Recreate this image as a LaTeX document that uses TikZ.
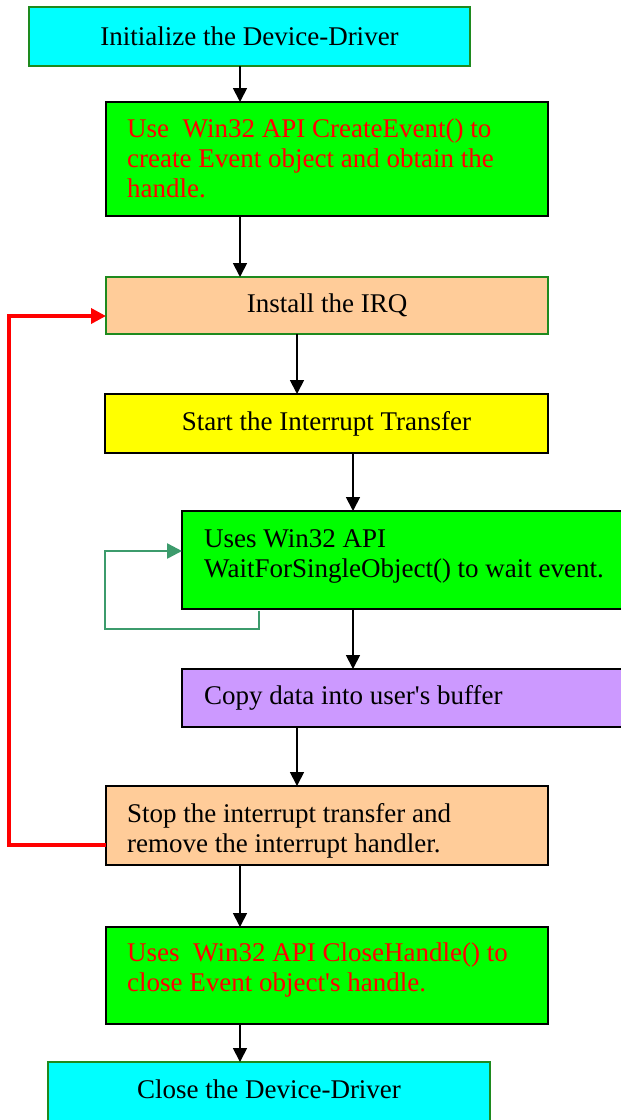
\documentclass[tikz,border=0pt]{standalone}
\usepackage{fontspec}
\newfontfamily\diagfont{Liberation Serif}
\usetikzlibrary{arrows.meta,calc}

\definecolor{fillCyan}{HTML}{00FFFF}
\definecolor{fillGreen}{HTML}{00FF00}
\definecolor{fillPeach}{HTML}{FFCC99}
\definecolor{fillYellow}{HTML}{FFFF00}
\definecolor{fillPurple}{HTML}{CC99FF}
\definecolor{edgeGreen}{HTML}{1E8A1E}
\definecolor{loopGreen}{HTML}{3C9B6C}
\definecolor{textRed}{HTML}{FF0000}

\begin{document}
\begin{tikzpicture}[x=1pt, y=-1pt,
  box/.style={anchor=north west, inner sep=0pt, outer sep=0pt},
  gbox/.style={box, draw=edgeGreen, line width=1.5pt},
  kbox/.style={box, draw=black, line width=2pt},
  txt/.style={font=\diagfont\fontsize{27pt}{30pt}\selectfont, inner sep=0pt},
  cline/.style={txt, anchor=base},
  lline/.style={txt, anchor=base west},
  multi/.style={txt, anchor=north west, align=flush left, text width=420pt},
  arr/.style={line width=1.8pt, -{Triangle[width=14pt,length=14pt]}},
  redarr/.style={draw=textRed, line width=3.5pt, -{Triangle[width=15pt,length=15pt]}},
  grarr/.style={draw=loopGreen, line width=2.5pt, -{Triangle[width=15pt,length=15pt]}}
]
% page frame
\useasboundingbox (0,0) rectangle (621,1120);
\fill[white] (0,0) rectangle (621,1120);
\clip (0,0) rectangle (621,1120);

% boxes
\node[gbox, fill=fillCyan,   minimum width=441pt, minimum height=59pt]  (b1) at (29,7) {};
\node[kbox, fill=fillGreen,  minimum width=442pt, minimum height=114pt] (b2) at (106,102) {};
\node[gbox, fill=fillPeach,  minimum width=442pt, minimum height=57pt]  (b3) at (106,277) {};
\node[kbox, fill=fillYellow, minimum width=443pt, minimum height=59pt]  (b4) at (105,394) {};
\node[kbox, fill=fillGreen,  minimum width=520pt, minimum height=98pt]  (b5) at (182,511) {};
\node[kbox, fill=fillPurple, minimum width=520pt, minimum height=58pt]  (b6) at (182,669) {};
\node[kbox, fill=fillPeach,  minimum width=442pt, minimum height=79pt]  (b7) at (106,786) {};
\node[kbox, fill=fillGreen,  minimum width=442pt, minimum height=97pt]  (b8) at (106,927) {};
\node[gbox, fill=fillCyan,   minimum width=442pt, minimum height=90pt]  (b9) at (48,1062) {};

% texts
\node[cline] (t1) at ($(b1.north)+(0,38)$) {Initialize the Device-Driver};
\node[multi, text=textRed] (t2) at ($(b2.north west)+(21,15)$)
  {\rule{0pt}{20pt}Use\ \ Win32 API CreateEvent() to\\create Event object and obtain the\\handle.};
\node[cline] (t3) at ($(b3.north)+(0,35)$) {Install the IRQ};
\node[cline] (t4) at ($(b4.north)+(0,36)$) {Start the Interrupt Transfer};
\node[multi] (t5) at ($(b5.north west)+(22,16)$)
  {\rule{0pt}{20pt}Uses Win32 API\\WaitForSingleObject() to wait event.};
\node[lline] (t6) at ($(b6.north west)+(22,35)$) {Copy data into user's buffer};
\node[multi] (t7) at ($(b7.north west)+(21,16)$)
  {\rule{0pt}{20pt}Stop the interrupt transfer and\\remove the interrupt handler.};
\node[multi, text=textRed] (t8) at ($(b8.north west)+(21,14)$)
  {\rule{0pt}{20pt}Uses\ \ Win32 API CloseHandle() to\\close Event object's handle.};
\node[cline] (t9) at ($(b9.north)+(0,36)$) {Close the Device-Driver};

% connector columns
\coordinate (xl) at (240,0);
\coordinate (xm) at (297,0);
\coordinate (xr) at (353,0);

% main flow
\draw[arr] (b1.south -| xl) -- (b2.north -| xl);
\draw[arr] (b2.south -| xl) -- (b3.north -| xl);
\draw[arr] (b3.south -| xm) -- (b4.north -| xm);
\draw[arr] (b4.south -| xr) -- (b5.north -| xr);
\draw[arr] (b5.south -| xr) -- (b6.north -| xr);
\draw[arr] (b6.south -| xm) -- (b7.north -| xm);
\draw[arr] (b7.south -| xl) -- (b8.north -| xl);
\draw[arr] (b8.south -| xl) -- (b9.north -| xl);

% wait loop
\coordinate (gs) at ($(b5.south west)+(77,2)$);
\coordinate (ge) at ($(b5.north west)+(0,40)$);
\coordinate (gx) at (105,0);
\coordinate (gy) at (0,629);
\draw[grarr] (gs) -- (gs |- gy) -| (gx |- ge) -- (ge);

% repeat loop
\coordinate (rs) at ($(b7.north west)+(0,59)$);
\coordinate (re) at ($(b3.north west)+(0,39)$);
\coordinate (rx) at (9,0);
\draw[redarr] (rs) -| (rx |- re) -- (re);
\end{tikzpicture}
\end{document}
